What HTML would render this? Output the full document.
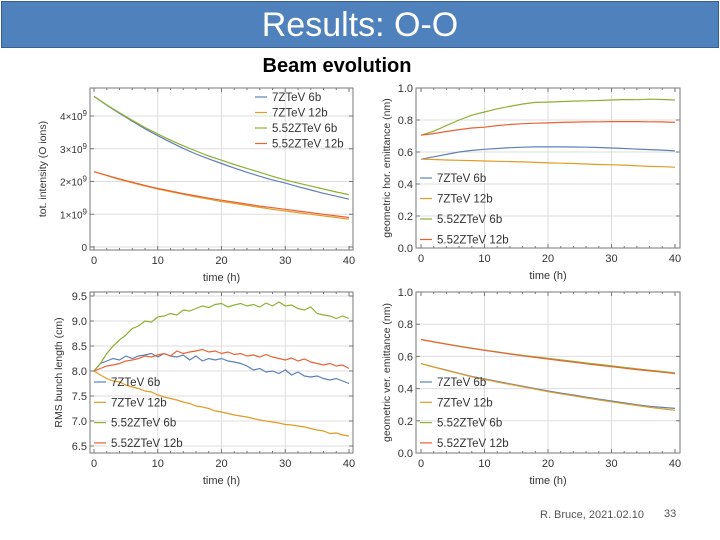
<!DOCTYPE html>
<html><head><meta charset="utf-8"><style>
body{margin:0;width:720px;height:540px;overflow:hidden;background:#fff;font-family:"Liberation Sans",sans-serif;position:relative}
#bar{position:absolute;left:1px;top:1px;width:716px;height:45px;background:#4f81bd;border:1px solid #3a5f8f;color:#fff;font-size:34px;text-align:center;line-height:46px}
#sub{position:absolute;left:0;width:674px;top:55px;text-align:center;font-weight:bold;font-size:20px;color:#000}
#foot{position:absolute;left:540px;top:509px;font-size:11px;color:#555}
#pg{position:absolute;left:664px;top:508px;font-size:11px;color:#555}
svg{position:absolute;left:0;top:0}
</style></head><body>
<div id="bar">Results: O-O</div>
<div id="sub">Beam evolution</div>
<div id="foot">R. Bruce, 2021.02.10</div>
<div id="pg">33</div>
<svg id="s" width="720" height="540"></svg>
<script>
const names=["7ZTeV 6b","7ZTeV 12b","5.52ZTeV 6b","5.52ZTeV 12b"];
const colors=["#5e81b5","#e19c24","#8fb032","#eb6235"];
const t21=[0,2,4,6,8,10,12,14,16,18,20,22,24,26,28,30,32,34,36,38,40];
const t41=[0,1,2,3,4,5,6,7,8,9,10,11,12,13,14,15,16,17,18,19,20,21,22,23,24,25,26,27,28,29,30,31,32,33,34,35,36,37,38,39,40];
const int7_6=[4.6,4.33,4.08,3.84,3.61,3.40,3.20,3.01,2.84,2.69,2.55,2.41,2.28,2.16,2.05,1.95,1.84,1.74,1.64,1.55,1.46];
const int7_12=[2.3,2.18,2.06,1.96,1.86,1.77,1.69,1.61,1.53,1.46,1.39,1.33,1.27,1.21,1.15,1.10,1.05,1.00,0.95,0.90,0.85];
const int5_6=[4.6,4.34,4.10,3.87,3.65,3.45,3.26,3.09,2.93,2.78,2.65,2.52,2.40,2.28,2.16,2.05,1.95,1.86,1.77,1.68,1.60];
const int5_12=[2.3,2.19,2.08,1.98,1.88,1.79,1.71,1.63,1.56,1.49,1.43,1.37,1.31,1.25,1.20,1.15,1.10,1.05,1.00,0.95,0.90];
const hor7_6=[0.555,0.57,0.585,0.60,0.61,0.617,0.622,0.627,0.63,0.632,0.632,0.632,0.631,0.63,0.628,0.625,0.622,0.618,0.615,0.612,0.607];
const hor7_12=[0.555,0.553,0.55,0.548,0.546,0.544,0.542,0.54,0.538,0.535,0.532,0.53,0.528,0.525,0.522,0.52,0.518,0.514,0.51,0.508,0.505];
const hor5_6=[0.705,0.73,0.765,0.80,0.83,0.85,0.87,0.885,0.90,0.91,0.912,0.915,0.918,0.92,0.922,0.925,0.928,0.927,0.93,0.928,0.925];
const hor5_12=[0.705,0.715,0.728,0.74,0.75,0.755,0.765,0.772,0.777,0.78,0.782,0.785,0.787,0.788,0.789,0.79,0.79,0.79,0.789,0.788,0.785];
const bl7_6=[8.0,8.15,8.2,8.25,8.22,8.3,8.25,8.3,8.32,8.35,8.28,8.35,8.3,8.28,8.32,8.22,8.3,8.2,8.25,8.22,8.25,8.2,8.18,8.15,8.1,8.02,8.05,7.98,8.0,7.95,8.02,7.92,7.98,7.9,7.88,7.9,7.85,7.82,7.85,7.8,7.75];
const bl7_12=[8.0,7.92,7.85,7.8,7.78,7.72,7.68,7.65,7.6,7.58,7.52,7.48,7.45,7.42,7.38,7.35,7.3,7.28,7.25,7.2,7.18,7.15,7.12,7.1,7.08,7.05,7.02,7.0,6.98,6.96,6.93,6.92,6.9,6.88,6.85,6.82,6.8,6.75,6.76,6.72,6.7];
const bl5_6=[8.0,8.15,8.35,8.5,8.62,8.72,8.85,8.9,9.0,8.98,9.08,9.1,9.15,9.12,9.22,9.2,9.25,9.3,9.27,9.33,9.35,9.28,9.32,9.35,9.3,9.33,9.28,9.36,9.3,9.38,9.3,9.32,9.25,9.22,9.28,9.15,9.12,9.1,9.05,9.1,9.05];
const bl5_12=[8.0,8.05,8.1,8.12,8.15,8.2,8.22,8.25,8.3,8.28,8.32,8.35,8.3,8.4,8.35,8.38,8.4,8.43,8.38,8.4,8.35,8.38,8.33,8.35,8.3,8.32,8.28,8.33,8.28,8.25,8.22,8.26,8.2,8.24,8.18,8.15,8.12,8.15,8.1,8.12,8.05];
const ver7_6=[0.555,0.535,0.515,0.495,0.475,0.46,0.445,0.43,0.415,0.40,0.385,0.372,0.36,0.347,0.335,0.323,0.312,0.30,0.29,0.283,0.277];
const ver7_12=[0.555,0.534,0.513,0.493,0.473,0.457,0.441,0.426,0.411,0.396,0.381,0.368,0.355,0.342,0.33,0.318,0.306,0.295,0.284,0.274,0.265];
const ver5_6=[0.705,0.69,0.677,0.664,0.651,0.639,0.628,0.617,0.607,0.597,0.588,0.578,0.569,0.559,0.55,0.541,0.532,0.523,0.514,0.506,0.497];
const ver5_12=[0.705,0.69,0.676,0.663,0.65,0.638,0.626,0.615,0.604,0.594,0.584,0.574,0.564,0.554,0.545,0.536,0.527,0.518,0.51,0.502,0.494];
const xTicks=[0,10,20,30,40];
const NS="http://www.w3.org/2000/svg",S=document.getElementById('s');
function mk(tag,a,p){const e=document.createElementNS(NS,tag);for(const k in a)e.setAttribute(k,a[k]);(p||S).appendChild(e);return e;}
function panel(cfg){
  const g=mk('g',{});
  
  
  const X=v=>cfg.x0+(v-0)/40*(cfg.x1-cfg.x0);
  const Y=v=>cfg.yb-(v-cfg.ymin)/(cfg.ymax-cfg.ymin)*(cfg.yb-cfg.yt);
  // grid
  xTicks.forEach(v=>{if(v>0&&v<40)mk('line',{x1:X(v),x2:X(v),y1:cfg.ft,y2:cfg.fb,stroke:'#ddd','stroke-width':1},g);});
  cfg.yTicks.forEach(v=>{mk('line',{x1:cfg.fl,x2:cfg.fr,y1:Y(v),y2:Y(v),stroke:'#ddd','stroke-width':1},g);});
  // series
  cfg.series.forEach((ys,i)=>{
    const d=ys.map((v,j)=>(j?'L':'M')+X(cfg.t[j]).toFixed(1)+','+Y(v).toFixed(1)).join('');
    const p=mk('path',{d:d,fill:'none',stroke:colors[i],'stroke-width':1.2},g);
    
    
  });
  // frame
  mk('rect',{x:cfg.fl,y:cfg.ft,width:cfg.fr-cfg.fl,height:cfg.fb-cfg.ft,fill:'none',stroke:'#777','stroke-width':1},g);
  xTicks.forEach(v=>{
    mk('line',{x1:X(v),x2:X(v),y1:cfg.fb,y2:cfg.fb-4,stroke:'#777'},g);
    mk('line',{x1:X(v),x2:X(v),y1:cfg.ft,y2:cfg.ft+4,stroke:'#777'},g);
    const t=mk('text',{x:X(v),y:cfg.fb+14,'text-anchor':'middle','font-size':11,fill:'#333'},g);t.textContent=v;
  });
  for(let v=0;v<=40;v+=2){if(v%10){mk('line',{x1:X(v),x2:X(v),y1:cfg.fb,y2:cfg.fb-2,stroke:'#777'},g);mk('line',{x1:X(v),x2:X(v),y1:cfg.ft,y2:cfg.ft+2,stroke:'#777'},g);}}
  cfg.yTicks.forEach((v,i)=>{
    mk('line',{x1:cfg.fl,x2:cfg.fl+4,y1:Y(v),y2:Y(v),stroke:'#777'},g);
    mk('line',{x1:cfg.fr,x2:cfg.fr-4,y1:Y(v),y2:Y(v),stroke:'#777'},g);
    const t=mk('text',{x:cfg.fl-3,y:Y(v)+4,'text-anchor':'end','font-size':cfg.tfs||11,fill:'#333'},g);
    t.innerHTML=cfg.yLabels[i];
  });
  const xl=mk('text',{x:(cfg.x0+cfg.x1)/2,y:cfg.fb+31,'text-anchor':'middle','font-size':11,fill:'#333'},g);xl.textContent='time (h)';
  const yl=mk('text',{x:0,y:0,'text-anchor':'middle','font-size':10.5,fill:'#333',transform:`translate(${cfg.ylx},${(cfg.ft+cfg.fb)/2}) rotate(-90)`},g);yl.textContent=cfg.ylabel;
  names.forEach((n,i)=>{
    const y=cfg.ly+i*cfg.ldy;
    mk('line',{x1:cfg.lx,x2:cfg.lx+12,y1:y,y2:y,stroke:colors[i],'stroke-width':1.2},g);
    const t=mk('text',{x:cfg.lx+17,y:y+4,'font-size':11.5,fill:'#333'},g);t.textContent=n;
    
    
  });
}
panel({name:'intensity-chart',t:t21,series:[int7_6,int7_12,int5_6,int5_12],x0:94,x1:349,fl:90,fr:353,ft:88,fb:250,ymin:0,ymax:4,yb:247,yt:116,
 yTicks:[0,1,2,3,4],yLabels:['0','1×10<tspan dy="-4" font-size="8">9</tspan>','2×10<tspan dy="-4" font-size="8">9</tspan>','3×10<tspan dy="-4" font-size="8">9</tspan>','4×10<tspan dy="-4" font-size="8">9</tspan>'],tfs:10,
 ylabel:'tot. intensity (O ions)',ylx:46,lx:255,ly:97,ldy:15.5});
panel({name:'hor-emittance-chart',t:t21,series:[hor7_6,hor7_12,hor5_6,hor5_12],x0:421,x1:675,fl:416,fr:680,ft:88,fb:248,ymin:0,ymax:1,yb:248,yt:88,
 yTicks:[0,0.2,0.4,0.6,0.8,1.0],yLabels:['0.0','0.2','0.4','0.6','0.8','1.0'],
 ylabel:'geometric hor. emittance (nm)',ylx:390,lx:420,ly:178,ldy:20.5});
panel({name:'bunch-length-chart',t:t41,series:[bl7_6,bl7_12,bl5_6,bl5_12],x0:94,x1:349,fl:90,fr:353,ft:292,fb:453,ymin:6.5,ymax:9.5,yb:446,yt:296,
 yTicks:[6.5,7.0,7.5,8.0,8.5,9.0,9.5],yLabels:['6.5','7.0','7.5','8.0','8.5','9.0','9.5'],
 ylabel:'RMS bunch length (cm)',ylx:62,lx:94,ly:382,ldy:20.3});
panel({name:'ver-emittance-chart',t:t21,series:[ver7_6,ver7_12,ver5_6,ver5_12],x0:421,x1:675,fl:416,fr:680,ft:292,fb:453,ymin:0,ymax:1,yb:453,yt:292,
 yTicks:[0,0.2,0.4,0.6,0.8,1.0],yLabels:['0.0','0.2','0.4','0.6','0.8','1.0'],
 ylabel:'geometric ver. emittance (nm)',ylx:390,lx:420,ly:382,ldy:20.3});
</script>
</body></html>
